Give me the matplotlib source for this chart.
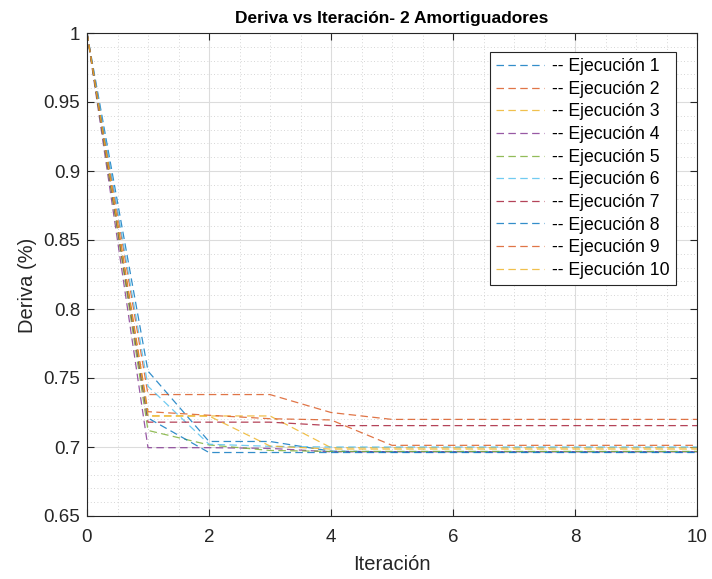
import matplotlib
matplotlib.use('Agg')
import matplotlib.pyplot as plt
from matplotlib.ticker import MultipleLocator

plt.rcParams['font.family'] = ['Liberation Sans', 'DejaVu Sans']

# datos
iteracion = [0, 1, 2, 3, 4, 5, 6, 7, 8, 9, 10]
ejec_1 = [1, 0.755, 0.704, 0.704, 0.697, 0.6965, 0.6965, 0.6965, 0.6965, 0.6965, 0.6965]
ejec_2 = [1, 0.738, 0.738, 0.738, 0.725, 0.720, 0.720, 0.720, 0.720, 0.720, 0.720]
ejec_3 = [1, 0.7225, 0.7225, 0.7225, 0.6995, 0.6995, 0.6995, 0.6995, 0.6995, 0.6995, 0.6995]
ejec_4 = [1, 0.6995, 0.6995, 0.699, 0.6965, 0.6965, 0.6965, 0.6965, 0.6965, 0.6965, 0.6965]
ejec_5 = [1, 0.712, 0.7015, 0.6975, 0.6968, 0.6968, 0.6968, 0.6968, 0.6968, 0.6968, 0.6968]
ejec_6 = [1, 0.744, 0.702, 0.7005, 0.700, 0.700, 0.700, 0.700, 0.700, 0.700, 0.700]
ejec_7 = [1, 0.718, 0.718, 0.718, 0.7155, 0.7155, 0.7155, 0.7155, 0.7155, 0.7155, 0.7155]
ejec_8 = [1, 0.721, 0.696, 0.696, 0.696, 0.696, 0.696, 0.696, 0.696, 0.696, 0.696]
ejec_9 = [1, 0.7256, 0.723, 0.7205, 0.7196, 0.7012, 0.7012, 0.7012, 0.7012, 0.7012, 0.7012]
ejec_10 = [1, 0.7225, 0.7225, 0.7007, 0.6985, 0.6985, 0.6985, 0.6985, 0.6985, 0.6985, 0.6985]

ejecuciones = [ejec_1, ejec_2, ejec_3, ejec_4, ejec_5, ejec_6, ejec_7, ejec_8, ejec_9, ejec_10]
etiquetas = ['-- Ejecución %d' % (i + 1) for i in range(len(ejecuciones))]
colores = ['#0072BD', '#D95319', '#EDB120', '#7E2F8E', '#77AC30',
           '#4DBEEE', '#A2142F', '#0072BD', '#D95319', '#EDB120']

fig = plt.figure(figsize=(7.12, 5.79), dpi=100)
ax = fig.add_axes([87/712, 1 - 516/579, 610/712, 483/579])

for datos, etiqueta, color in zip(ejecuciones, etiquetas, colores):
    ax.plot(iteracion, datos, linestyle=(0, (6, 3.5)), color=color, lw=0.9,
            alpha=0.8, label=etiqueta)

ax.set_xlim(0, 10)
ax.set_ylim(0.65, 1)
ax.xaxis.set_major_locator(MultipleLocator(2))
ax.xaxis.set_minor_locator(MultipleLocator(0.5))
ax.yaxis.set_minor_locator(MultipleLocator(0.01))
ax.set_yticks([0.65, 0.7, 0.75, 0.8, 0.85, 0.9, 0.95, 1])
ax.set_yticklabels(['0.65', '0.7', '0.75', '0.8', '0.85', '0.9', '0.95', '1'])

ax.grid(which='major', color='#dcdcdc', lw=0.8, ls='-')
ax.grid(which='minor', color='#c8c8c8', lw=0.6, ls=(0, (1, 3)))
ax.set_axisbelow(True)
ax.tick_params(which='both', direction='in', top=True, right=True,
               labelsize=13.5, colors='#262626')
ax.tick_params(which='major', length=5, width=0.8)
ax.tick_params(which='minor', length=0)
ax.tick_params(axis='x', pad=9)
ax.tick_params(axis='y', pad=5)
for s in ax.spines.values():
    s.set_color('#262626')
    s.set_linewidth(0.8)

ax.set_title('Deriva vs Iteración- 2 Amortiguadores', fontsize=12.5,
             fontweight='bold', pad=7)
ax.set_xlabel('Iteración', fontsize=14.5, color='#262626')
ax.set_ylabel('Deriva (%)', fontsize=14.5, color='#262626')
ax.xaxis.set_label_coords(0.5, -0.08)
ax.yaxis.set_label_coords(-0.082, 0.478)

leg = ax.legend(loc='upper right', bbox_to_anchor=(0.9656, 0.9607),
                borderaxespad=0, fontsize=12.7, handlelength=2.75,
                labelspacing=0.32, fancybox=False, framealpha=1,
                edgecolor='#262626', borderpad=0.35, handletextpad=0.45)
leg.get_frame().set_linewidth(0.8)

fig.savefig('out.png', dpi=100)
